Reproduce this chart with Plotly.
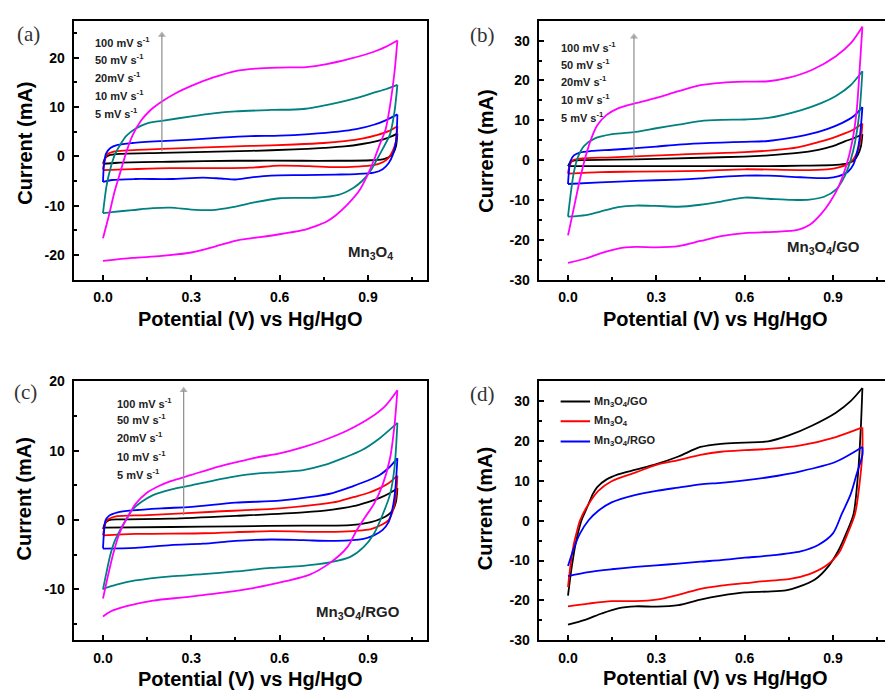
import plotly.graph_objects as go

FONT = "Liberation Sans, Arial, sans-serif"
SERIF = "Liberation Serif, Times New Roman, serif"

# ---------------------------------------------------------------- data
RATE_LABELS = ["100 mV s<sup>-1</sup>", "50 mV s<sup>-1</sup>", "20mV s<sup>-1</sup>",
               "10 mV s<sup>-1</sup>", "5 mV s<sup>-1</sup>"]
RATE_COLORS = ["#000000", "#ff0000", "#0000ff", "#008080", "#ff00ff"]  # 5,10,20,50,100 mV/s

X_TICKS = [0.0, 0.3, 0.6, 0.9]
Y_TICKS_A = [-20, -10, 0, 10, 20]
Y_TICKS_B = [-30, -20, -10, 0, 10, 20, 30]
Y_TICKS_C = [-10, 0, 10, 20]
Y_TICKS_D = [-30, -20, -10, 0, 10, 20, 30]

# (a) Mn3O4 — (potential V, current mA); anodic sweep 0 -> 1 V, cathodic 1 -> 0 V
A5_ANODIC = [(0.0, -1.5), (0.008, -0.3), (0.02, 0.2), (0.06, 0.5), (0.2, 0.7), (0.35, 0.9), (0.5, 1.1),
             (0.65, 1.4), (0.75, 1.7), (0.82, 2.0), (0.88, 2.5), (0.93, 3.1), (0.97, 3.8), (1.0, 4.6)]
A5_CATHODIC = [(1.0, 4.6), (0.995, 2.0), (0.985, 0.6), (0.97, -0.2), (0.95, -0.6), (0.91, -0.8), (0.8, -0.9),
               (0.68, -0.9), (0.45, -0.9), (0.23, -1.1), (0.05, -1.3), (0.0, -1.5)]
A10_ANODIC = [(0.0, -2.7), (0.005, -1.0), (0.015, 0.4), (0.04, 1.0), (0.08, 1.2), (0.2, 1.5), (0.35, 1.8),
              (0.5, 2.1), (0.65, 2.4), (0.75, 2.7), (0.82, 3.1), (0.88, 3.6), (0.93, 4.3), (0.97, 5.1), (1.0, 6.1)]
A10_CATHODIC = [(1.0, 6.1), (0.995, 3.0), (0.985, 1.2), (0.97, -0.3), (0.95, -1.2), (0.92, -1.8), (0.86, -2.1),
                (0.79, -2.2), (0.7, -2.0), (0.6, -1.9), (0.5, -2.3), (0.4, -2.4), (0.23, -2.4), (0.1, -2.6),
                (0.0, -2.8)]
A20_ANODIC = [(0.0, -5.2), (0.003, -2.0), (0.01, 0.5), (0.025, 1.7), (0.05, 2.3), (0.1, 2.7), (0.2, 3.1),
              (0.3, 3.4), (0.4, 3.8), (0.5, 4.1), (0.6, 4.2), (0.7, 4.5), (0.8, 5.0), (0.86, 5.5), (0.92, 6.4),
              (0.96, 7.3), (1.0, 8.5)]
A20_CATHODIC = [(1.0, 8.5), (0.995, 3.0), (0.985, 0.4), (0.97, -1.4), (0.95, -2.6), (0.92, -3.3), (0.86, -3.6),
                (0.79, -3.7), (0.68, -3.8), (0.57, -3.9), (0.5, -4.3), (0.45, -4.7), (0.4, -4.5), (0.34, -4.3),
                (0.23, -4.6), (0.11, -4.6), (0.03, -4.8), (0.0, -5.2)]
A50_ANODIC = [(0.0, -11.5), (0.012, -6.0), (0.025, -2.5), (0.04, 0.3), (0.06, 2.5), (0.08, 4.2), (0.11, 5.6),
              (0.15, 6.7), (0.2, 7.2), (0.3, 8.1), (0.375, 8.7), (0.45, 9.1), (0.57, 9.4), (0.68, 9.6),
              (0.79, 10.8), (0.86, 11.8), (0.92, 12.9), (0.96, 13.6), (1.0, 14.5)]
A50_CATHODIC = [(1.0, 14.5), (0.99, 9.0), (0.975, 4.5), (0.95, 1.5), (0.93, -0.7), (0.91, -2.8), (0.88, -5.0),
                (0.85, -6.4), (0.8, -7.8), (0.72, -8.4), (0.6, -8.5), (0.51, -9.4), (0.44, -10.3),
                (0.37, -10.9), (0.3, -10.8), (0.23, -10.4), (0.17, -10.5), (0.1, -10.9), (0.03, -11.3),
                (0.0, -11.5)]
A100_ANODIC = [(0.0, -16.6), (0.02, -12.0), (0.04, -7.0), (0.06, -3.0), (0.08, 1.0), (0.1, 4.2), (0.13, 7.3),
               (0.16, 9.3), (0.2, 11.1), (0.25, 12.9), (0.3, 14.3), (0.375, 16.0), (0.45, 17.3), (0.52, 17.8),
               (0.6, 18.0), (0.69, 18.1), (0.76, 18.7), (0.84, 19.8), (0.92, 21.2), (0.96, 22.2), (1.0, 23.5)]
A100_CATHODIC = [(1.0, 23.5), (0.99, 17.0), (0.975, 10.3), (0.96, 5.5), (0.94, 2.4), (0.92, -0.8), (0.9, -3.6),
                 (0.87, -7.0), (0.83, -9.8), (0.79, -12.0), (0.76, -13.2), (0.72, -14.2), (0.69, -14.8),
                 (0.6, -15.8), (0.52, -16.5), (0.46, -17.0), (0.385, -18.2), (0.3, -19.5), (0.2, -20.2),
                 (0.1, -20.6), (0.0, -21.2)]

# (b) Mn3O4/GO
B5_ANODIC = [(0.0, -1.5), (0.008, -0.5), (0.02, -0.1), (0.06, 0.0), (0.23, 0.2), (0.45, 0.6), (0.6, 0.9),
             (0.68, 1.2), (0.78, 1.8), (0.85, 2.6), (0.9, 3.5), (0.94, 4.7), (0.97, 5.5), (1.0, 6.5)]
B5_CATHODIC = [(1.0, 6.5), (0.995, 3.5), (0.985, 1.4), (0.97, -0.2), (0.95, -0.8), (0.91, -1.2), (0.8, -1.4),
               (0.68, -1.5), (0.45, -1.5), (0.23, -1.5), (0.0, -1.5)]
B10_ANODIC = [(0.0, -3.4), (0.005, -1.5), (0.015, -0.1), (0.04, 0.4), (0.15, 0.7), (0.375, 1.4), (0.6, 2.0),
              (0.7, 2.5), (0.78, 3.2), (0.85, 4.5), (0.9, 5.6), (0.94, 6.7), (0.97, 7.7), (1.0, 9.2)]
B10_CATHODIC = [(1.0, 9.2), (0.995, 5.5), (0.985, 2.5), (0.97, 0.3), (0.95, -1.0), (0.92, -1.8), (0.88, -2.3),
                (0.79, -2.5), (0.6, -2.3), (0.45, -2.7), (0.23, -2.9), (0.11, -3.0), (0.0, -3.4)]
B20_ANODIC = [(0.0, -6.0), (0.003, -3.0), (0.008, -0.3), (0.02, 1.2), (0.04, 1.9), (0.08, 2.3), (0.15, 2.6),
              (0.23, 3.0), (0.3, 3.4), (0.375, 3.9), (0.45, 4.2), (0.52, 4.4), (0.6, 4.6), (0.68, 4.8),
              (0.75, 5.5), (0.82, 6.5), (0.88, 7.8), (0.93, 9.3), (0.97, 11.0), (1.0, 13.3)]
B20_CATHODIC = [(1.0, 13.3), (0.993, 7.0), (0.985, 3.0), (0.97, -1.0), (0.95, -3.0), (0.92, -4.0), (0.88, -4.5),
                (0.79, -4.3), (0.68, -3.9), (0.6, -3.9), (0.52, -4.2), (0.45, -4.6), (0.375, -4.9),
                (0.23, -5.2), (0.11, -5.6), (0.0, -6.0)]
B50_ANODIC = [(0.0, -14.2), (0.01, -8.0), (0.02, -3.0), (0.035, 1.0), (0.055, 3.6), (0.09, 5.4), (0.15, 6.5),
              (0.23, 7.1), (0.3, 8.0), (0.375, 8.9), (0.45, 9.8), (0.52, 10.1), (0.6, 10.2), (0.68, 10.6),
              (0.79, 12.5), (0.86, 14.3), (0.91, 16.1), (0.96, 18.8), (1.0, 22.3)]
B50_CATHODIC = [(1.0, 22.3), (0.99, 12.0), (0.975, 4.5), (0.96, 0.0), (0.94, -4.0), (0.91, -7.4), (0.87, -9.2),
                (0.82, -9.9), (0.76, -10.0), (0.68, -9.7), (0.6, -9.4), (0.52, -10.4), (0.45, -11.2),
                (0.375, -11.7), (0.3, -11.5), (0.23, -11.4), (0.17, -11.8), (0.11, -12.9), (0.06, -13.8),
                (0.0, -14.2)]
B100_ANODIC = [(0.0, -18.9), (0.02, -12.0), (0.04, -5.0), (0.06, 1.0), (0.08, 5.6), (0.1, 8.8), (0.13, 11.3),
               (0.17, 13.0), (0.23, 14.3), (0.3, 15.6), (0.375, 17.3), (0.45, 18.8), (0.52, 19.4), (0.6, 19.7),
               (0.68, 19.8), (0.75, 20.7), (0.83, 22.7), (0.91, 26.1), (0.96, 29.3), (1.0, 33.5)]
B100_CATHODIC = [(1.0, 33.5), (0.99, 22.0), (0.98, 12.0), (0.965, 4.5), (0.945, -1.5), (0.92, -6.5),
                 (0.89, -10.5), (0.86, -13.5), (0.82, -16.3), (0.78, -17.5), (0.7, -18.0), (0.6, -18.3),
                 (0.52, -19.1), (0.45, -20.3), (0.375, -21.6), (0.3, -21.9), (0.23, -21.8), (0.17, -22.2),
                 (0.11, -23.4), (0.06, -24.7), (0.0, -25.8)]

# (c) Mn3O4/RGO
C5_ANODIC = [(0.0, -1.3), (0.008, -0.4), (0.02, 0.0), (0.06, 0.1), (0.23, 0.2), (0.45, 0.6), (0.68, 1.1),
             (0.78, 1.5), (0.85, 2.0), (0.9, 2.6), (0.94, 3.2), (0.97, 3.8), (1.0, 4.6)]
C5_CATHODIC = [(1.0, 4.6), (0.995, 2.6), (0.985, 1.5), (0.97, 0.8), (0.95, 0.3), (0.91, -0.3), (0.85, -0.7),
               (0.79, -0.8), (0.68, -0.8), (0.45, -0.9), (0.23, -1.0), (0.0, -1.1)]
C10_ANODIC = [(0.0, -2.2), (0.005, -1.0), (0.012, -0.1), (0.04, 0.5), (0.15, 0.7), (0.375, 1.2), (0.6, 1.7),
              (0.74, 2.3), (0.8, 2.7), (0.85, 3.3), (0.9, 3.9), (0.94, 4.6), (0.97, 5.3), (1.0, 6.4)]
C10_CATHODIC = [(1.0, 6.4), (0.995, 3.5), (0.985, 1.4), (0.97, 0.0), (0.95, -0.6), (0.91, -1.3), (0.79, -1.7),
                (0.57, -1.6), (0.34, -1.9), (0.11, -2.0), (0.0, -2.2)]
C20_ANODIC = [(0.0, -4.1), (0.003, -2.0), (0.008, -0.1), (0.02, 0.6), (0.05, 1.1), (0.1, 1.4), (0.2, 1.7),
              (0.3, 1.9), (0.45, 2.5), (0.6, 2.8), (0.7, 3.3), (0.78, 3.9), (0.85, 4.9), (0.9, 5.7),
              (0.94, 6.5), (0.97, 7.5), (1.0, 8.9)]
C20_CATHODIC = [(1.0, 8.9), (0.993, 4.5), (0.985, 2.0), (0.97, -0.3), (0.95, -1.4), (0.92, -2.2), (0.885, -2.7),
                (0.79, -3.0), (0.68, -2.9), (0.57, -2.8), (0.45, -3.0), (0.34, -3.4), (0.23, -3.6),
                (0.11, -4.0), (0.0, -4.1)]
C50_ANODIC = [(0.0, -10.0), (0.012, -7.5), (0.025, -5.0), (0.04, -3.0), (0.06, -1.3), (0.08, 0.2), (0.1, 1.5),
              (0.13, 2.6), (0.17, 3.6), (0.23, 4.4), (0.3, 5.0), (0.375, 5.7), (0.45, 6.3), (0.52, 6.7),
              (0.6, 6.9), (0.68, 7.2), (0.75, 7.9), (0.82, 9.0), (0.88, 10.1), (0.94, 11.8), (1.0, 14.0)]
C50_CATHODIC = [(1.0, 14.0), (0.99, 7.5), (0.975, 3.7), (0.95, 0.8), (0.92, -2.0), (0.885, -3.9), (0.84, -5.3),
                (0.77, -6.1), (0.68, -6.6), (0.57, -6.9), (0.45, -7.4), (0.34, -7.8), (0.23, -8.1),
                (0.11, -8.7), (0.046, -9.3), (0.0, -9.9)]
C100_ANODIC = [(0.0, -11.3), (0.018, -7.8), (0.035, -4.8), (0.055, -2.0), (0.07, -0.6), (0.09, 0.9),
               (0.11, 2.3), (0.148, 3.9), (0.19, 4.9), (0.23, 5.6), (0.3, 6.5), (0.375, 7.5), (0.45, 8.3),
               (0.52, 9.0), (0.6, 9.6), (0.68, 10.5), (0.75, 11.5), (0.83, 12.9), (0.91, 14.8), (0.96, 16.5),
               (1.0, 18.7)]
C100_CATHODIC = [(1.0, 18.7), (0.99, 13.6), (0.975, 8.9), (0.95, 5.1), (0.92, 2.3), (0.89, 0.4), (0.86, -1.6),
                 (0.83, -3.9), (0.77, -6.2), (0.7, -7.9), (0.62, -8.8), (0.51, -9.8), (0.4, -10.5),
                 (0.28, -11.1), (0.17, -11.6), (0.08, -12.4), (0.024, -13.2), (0.0, -13.9)]

# (d) comparison at 100 mV/s
D_GO_ANODIC = [(0.0, -18.8), (0.012, -12.0), (0.024, -6.5), (0.035, -2.8), (0.046, 0.1), (0.06, 2.5),
               (0.07, 4.2), (0.085, 6.8), (0.1, 8.5), (0.13, 10.3), (0.17, 11.6), (0.23, 12.8), (0.3, 14.2),
               (0.375, 16.1), (0.45, 18.5), (0.52, 19.3), (0.6, 19.6), (0.68, 19.9), (0.75, 21.4),
               (0.83, 23.9), (0.91, 27.1), (0.96, 30.0), (1.0, 33.3)]
D_GO_CATHODIC = [(1.0, 33.3), (0.995, 23.9), (0.985, 11.6), (0.97, 1.7), (0.945, -3.2), (0.92, -7.3),
                 (0.885, -11.4), (0.84, -14.7), (0.78, -16.7), (0.74, -17.5), (0.68, -17.8), (0.6, -18.0),
                 (0.52, -18.8), (0.45, -19.8), (0.375, -21.2), (0.3, -21.6), (0.23, -21.5), (0.17, -22.0),
                 (0.114, -23.3), (0.058, -24.9), (0.0, -26.1)]
D_MN_ANODIC = [(0.0, -16.7), (0.008, -11.5), (0.018, -6.5), (0.03, -2.8), (0.041, 0.1), (0.07, 4.2),
               (0.103, 7.5), (0.148, 9.9), (0.23, 12.1), (0.3, 14.0), (0.375, 15.2), (0.45, 16.5),
               (0.52, 17.3), (0.6, 17.7), (0.68, 18.0), (0.79, 18.9), (0.91, 21.0), (1.0, 23.4)]
D_MN_CATHODIC = [(1.0, 23.4), (1.0, 17.3), (0.99, 9.1), (0.975, 1.7), (0.95, -3.2), (0.92, -8.1),
                 (0.875, -11.4), (0.82, -13.4), (0.75, -14.7), (0.68, -15.1), (0.6, -15.7), (0.52, -16.3),
                 (0.45, -17.1), (0.375, -18.6), (0.3, -19.8), (0.23, -20.2), (0.148, -20.2), (0.07, -20.8),
                 (0.0, -21.5)]
D_RGO_ANODIC = [(0.0, -11.4), (0.018, -7.3), (0.041, -3.2), (0.07, 0.1), (0.103, 2.5), (0.148, 4.6),
                (0.23, 6.5), (0.3, 7.5), (0.375, 8.3), (0.45, 9.1), (0.52, 9.5), (0.6, 10.1), (0.68, 10.9),
                (0.79, 12.4), (0.91, 14.8), (1.0, 18.5)]
D_RGO_CATHODIC = [(1.0, 18.5), (1.0, 16.5), (0.98, 11.6), (0.96, 6.6), (0.93, 1.7), (0.9, -3.2), (0.85, -6.1),
                  (0.79, -7.7), (0.68, -8.8), (0.6, -9.3), (0.52, -9.9), (0.45, -10.3), (0.375, -10.8),
                  (0.3, -11.2), (0.23, -11.6), (0.148, -12.2), (0.07, -12.9), (0.0, -13.9)]

D_NAMES = ["Mn<sub>3</sub>O<sub>4</sub>/GO", "Mn<sub>3</sub>O<sub>4</sub>", "Mn<sub>3</sub>O<sub>4</sub>/RGO"]
D_COLORS = ["#000000", "#ff0000", "#0000ff"]

PANEL_A = [(A5_ANODIC, A5_CATHODIC), (A10_ANODIC, A10_CATHODIC), (A20_ANODIC, A20_CATHODIC),
           (A50_ANODIC, A50_CATHODIC), (A100_ANODIC, A100_CATHODIC)]
PANEL_B = [(B5_ANODIC, B5_CATHODIC), (B10_ANODIC, B10_CATHODIC), (B20_ANODIC, B20_CATHODIC),
           (B50_ANODIC, B50_CATHODIC), (B100_ANODIC, B100_CATHODIC)]
PANEL_C = [(C5_ANODIC, C5_CATHODIC), (C10_ANODIC, C10_CATHODIC), (C20_ANODIC, C20_CATHODIC),
           (C50_ANODIC, C50_CATHODIC), (C100_ANODIC, C100_CATHODIC)]
PANEL_D = [(D_GO_ANODIC, D_GO_CATHODIC), (D_MN_ANODIC, D_MN_CATHODIC), (D_RGO_ANODIC, D_RGO_CATHODIC)]

# ---------------------------------------------------------------- geometry (pixels of the 885x698 page)
W, H = 885, 698
PX_PER_V = 294.4


def xdomain(zero_px, right_px=None):
    left = zero_px - 0.1 * PX_PER_V
    right = zero_px + 1.1 * PX_PER_V if right_px is None else right_px
    return [left / W, min(right, W) / W], [-0.1, (min(right, W) - zero_px) / PX_PER_V]


def ydomain(top_px, bottom_px):
    return [1 - bottom_px / H, 1 - top_px / H]


XD_L, XR_L = xdomain(103)
XD_R, XR_R = xdomain(568, W)
YD_T = ydomain(13, 278)
YD_B = ydomain(382, 647)

fig = go.Figure()


def axis_ids(panel_idx):
    return ("x" if panel_idx == 1 else f"x{panel_idx}", "y" if panel_idx == 1 else f"y{panel_idx}")


def add_loop(panel_idx, branches, color, width=1.8):
    xa, ya = axis_ids(panel_idx)
    for branch in branches:
        fig.add_trace(go.Scatter(
            x=[p[0] for p in branch], y=[p[1] for p in branch], mode="lines",
            line=dict(color=color, width=width, shape="spline", smoothing=0.8),
            xaxis=xa, yaxis=ya, showlegend=False, hoverinfo="skip"))


for k, panel in enumerate([PANEL_A, PANEL_B, PANEL_C], start=1):
    for loop, col in zip(panel, RATE_COLORS):
        add_loop(k, loop, col)
for loop, col in zip(PANEL_D, D_COLORS):
    add_loop(4, loop, col)

# grey "increasing scan rate" arrows (tail -> head)
for k, (xv, y0, y1) in zip([1, 2, 3], [(0.2, 1.0, 24.6), (0.224, 0.2, 31.0), (0.274, 0.7, 18.7)]):
    xa, ya = axis_ids(k)
    fig.add_trace(go.Scatter(
        x=[xv, xv], y=[y0, y1], mode="lines+markers", xaxis=xa, yaxis=ya,
        line=dict(color="#8c8c8c", width=1.2),
        marker=dict(symbol="triangle-up", size=[0, 7], color="#8c8c8c", line=dict(width=0)),
        showlegend=False, hoverinfo="skip"))

tickfont = dict(family=FONT, size=14, color="black", weight="bold")


def xaxis(domain, rng, anchor):
    return dict(domain=domain, range=rng, anchor=anchor, showline=True, mirror=True, linecolor="black",
                linewidth=2, ticks="inside", ticklen=5, tickwidth=1.5, tickcolor="black",
                tickvals=X_TICKS, ticktext=[f"{v:.1f}" for v in X_TICKS], tickfont=tickfont,
                showgrid=False, zeroline=False, ticklabelstandoff=4,
                minor=dict(ticks="inside", ticklen=3, tickwidth=1.5, tickcolor="black",
                           tickmode="linear", tick0=0, dtick=0.15, showgrid=False))


def yaxis(domain, rng, anchor, ticks, mirror):
    return dict(domain=domain, range=rng, anchor=anchor, showline=True, mirror=mirror, linecolor="black",
                linewidth=2, ticks="inside", ticklen=5, tickwidth=1.5, tickcolor="black",
                tickvals=ticks, ticktext=[f"{v:g}" for v in ticks], tickfont=tickfont,
                showgrid=False, zeroline=False, ticklabelstandoff=4,
                minor=dict(ticks="inside", ticklen=3, tickwidth=1.5, tickcolor="black",
                           tickmode="linear", tick0=0, dtick=5, showgrid=False))


fig.update_layout(
    width=W, height=H, margin=dict(l=0, r=0, t=0, b=0),
    paper_bgcolor="white", plot_bgcolor="white", showlegend=False,
    xaxis=xaxis(XD_L, XR_L, "y"), yaxis=yaxis(YD_T, [-25, 27.5], "x", Y_TICKS_A, True),
    xaxis2=xaxis(XD_R, XR_R, "y2"), yaxis2=yaxis(YD_T, [-30, 35], "x2", Y_TICKS_B, False),
    xaxis3=xaxis(XD_L, XR_L, "y3"), yaxis3=yaxis(YD_B, [-17.3, 20], "x3", Y_TICKS_C, True),
    xaxis4=xaxis(XD_R, XR_R, "y4"), yaxis4=yaxis(YD_B, [-30, 35], "x4", Y_TICKS_D, False),
)

ann = []
# panel letters
for lab, (px, py) in zip(["(a)", "(b)", "(c)", "(d)"], [(28, 27), (483, 28), (25, 393), (483, 395)]):
    ann.append(dict(text=lab, x=px / W, y=1 - py / H, xref="paper", yref="paper", showarrow=False,
                    xanchor="center", yanchor="middle", font=dict(family=SERIF, size=21, color="#333333")))

# axis titles
title_font = dict(family=FONT, size=20, color="black", weight="bold")
for xr, py in [("x", 318), ("x2", 318), ("x3", 687), ("x4", 686)]:
    ann.append(dict(text="Potential (V) vs Hg/HgO", x=0.5, y=1 - py / H, xref=xr, yref="paper",
                    showarrow=False, xanchor="center", yanchor="middle", font=title_font))
for px, py in [(25, 139), (486, 147), (24, 503), (485, 512)]:
    ann.append(dict(text="Current (mA)", x=px / W, y=1 - py / H, xref="paper", yref="paper", textangle=-90,
                    showarrow=False, xanchor="center", yanchor="middle", font=title_font))

# scan-rate captions
small_font = dict(family=FONT, size=11, color="#222222", weight="bold")
caption_pos = [("x", "y", -0.033, [23.2, 19.7, 16.0, 12.4, 8.8]),
               ("x2", "y2", -0.03, [28.4, 24.1, 19.8, 15.3, 10.8]),
               ("x3", "y3", 0.04, [16.9, 14.5, 11.9, 9.3, 6.7])]
for xr, yr, x0, ys in caption_pos:
    for txt, yv in zip(RATE_LABELS, ys):
        ann.append(dict(text=txt, x=x0, y=yv, xref=xr, yref=yr, showarrow=False,
                        xanchor="left", yanchor="middle", font=small_font))

# sample names
name_font = dict(family=FONT, size=15, color="#222222", weight="bold")
for txt, xr, yr, xv, yv in [("Mn<sub>3</sub>O<sub>4</sub>", "x", "y", 0.992, -19.6),
                            ("Mn<sub>3</sub>O<sub>4</sub>/GO", "x2", "y2", 1.0, -21.9),
                            ("Mn<sub>3</sub>O<sub>4</sub>/RGO", "x3", "y3", 1.015, -13.3)]:
    ann.append(dict(text=txt, x=xv, y=yv, xref=xr, yref=yr, showarrow=False,
                    xanchor="right", yanchor="middle", font=name_font))

# legend of panel (d)
for txt, col, yv in zip(D_NAMES, D_COLORS, [29.9, 24.95, 19.9]):
    fig.add_shape(type="line", x0=-0.025, x1=0.075, y0=yv, y1=yv, xref="x4", yref="y4",
                  line=dict(color=col, width=2))
    ann.append(dict(text=txt, x=0.08, y=yv, xref="x4", yref="y4", showarrow=False,
                    xanchor="left", yanchor="middle", font=small_font))

fig.update_layout(annotations=ann)
fig.write_html("out.html")
